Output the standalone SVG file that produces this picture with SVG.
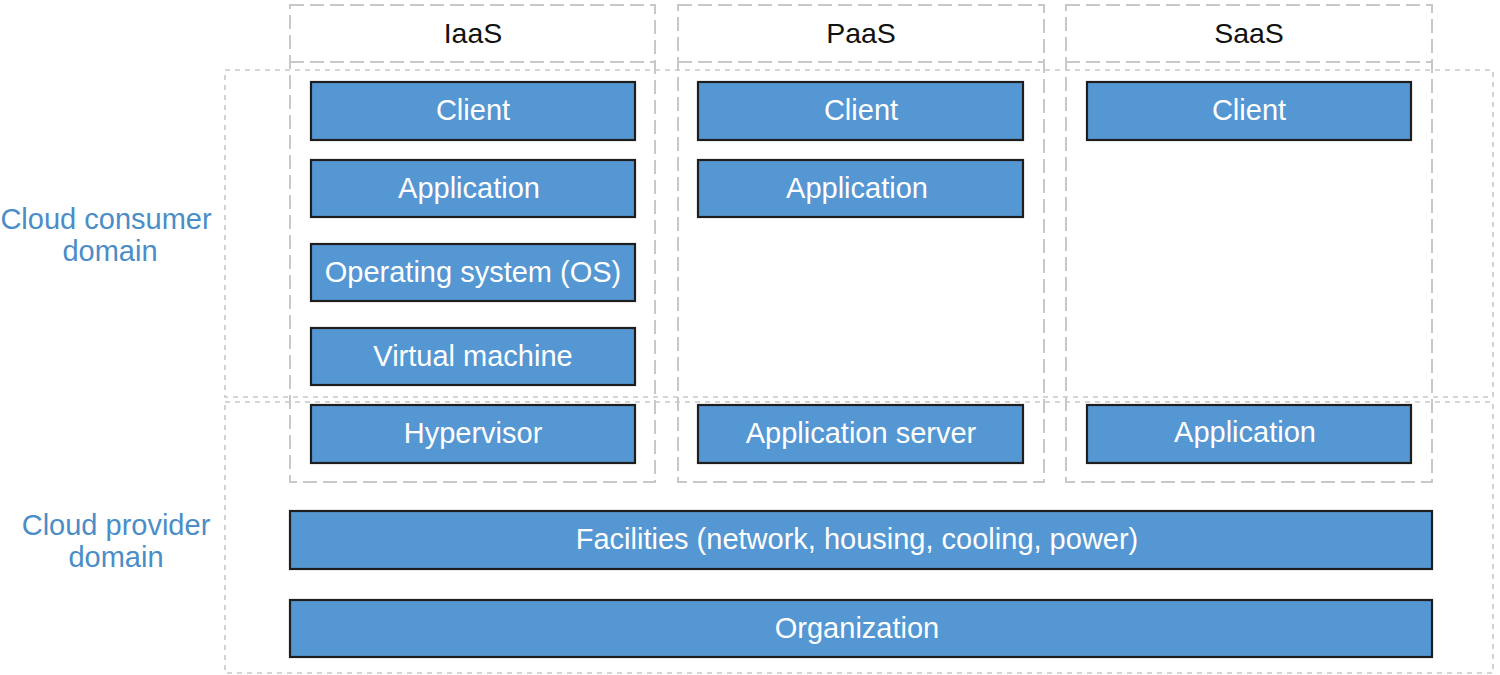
<svg xmlns="http://www.w3.org/2000/svg" width="1500" height="675" viewBox="0 0 1500 675">
<style>
.col{fill:none;stroke:#c8c8c8;stroke-width:2;stroke-dasharray:14 6}
.dom{fill:none;stroke:#c8c8c8;stroke-width:1.6;stroke-dasharray:5 5}
.box{fill:#5597d2;stroke:#1e1e1e;stroke-width:2.2}
.bt{fill:#ffffff;font-family:"Liberation Sans",Arial,sans-serif;font-size:29px;text-anchor:middle}
.ht{fill:#111111;font-family:"Liberation Sans",Arial,sans-serif;font-size:28.5px;text-anchor:middle}
.dt{fill:#4a8dc8;font-family:"Liberation Sans",Arial,sans-serif;font-size:29px;text-anchor:middle}
</style>
<rect width="1500" height="675" fill="#ffffff"/>
<g id="domains">
<g id="consumer-domain">
<rect class="dom" x="225" y="70" width="1268" height="327"/>
<text class="dt" x="106" y="229">Cloud consumer</text>
<text class="dt" x="110" y="261">domain</text>
</g>
<g id="provider-domain">
<rect class="dom" x="225" y="402" width="1268" height="271"/>
<text class="dt" x="116" y="535">Cloud provider</text>
<text class="dt" x="116" y="567">domain</text>
</g>
</g>
<g id="col-iaas">
<rect class="col" x="290" y="5" width="365" height="477"/>
<line class="col" x1="290" y1="62" x2="655" y2="62"/>
<text class="ht" x="473" y="43">IaaS</text>
</g>
<g id="col-paas">
<rect class="col" x="678" y="5" width="366" height="477"/>
<line class="col" x1="678" y1="62" x2="1044" y2="62"/>
<text class="ht" x="861" y="43">PaaS</text>
</g>
<g id="col-saas">
<rect class="col" x="1066" y="5" width="366" height="477"/>
<line class="col" x1="1066" y1="62" x2="1432" y2="62"/>
<text class="ht" x="1249" y="43">SaaS</text>
</g>
<g id="iaas-client"><rect class="box" x="311" y="82" width="324" height="58"/><text class="bt" x="473" y="120">Client</text></g>
<g id="iaas-application"><rect class="box" x="311" y="160" width="324" height="57"/><text class="bt" x="469" y="198">Application</text></g>
<g id="iaas-os"><rect class="box" x="311" y="244" width="324" height="57"/><text class="bt" x="473" y="282">Operating system (OS)</text></g>
<g id="iaas-vm"><rect class="box" x="311" y="328" width="324" height="57"/><text class="bt" x="473" y="366">Virtual machine</text></g>
<g id="iaas-hypervisor"><rect class="box" x="311" y="405" width="324" height="58"/><text class="bt" x="473" y="443">Hypervisor</text></g>
<g id="paas-client"><rect class="box" x="698" y="82" width="325" height="58"/><text class="bt" x="861" y="120">Client</text></g>
<g id="paas-application"><rect class="box" x="698" y="160" width="325" height="57"/><text class="bt" x="857" y="198">Application</text></g>
<g id="paas-appserver"><rect class="box" x="698" y="405" width="325" height="58"/><text class="bt" x="861" y="443">Application server</text></g>
<g id="saas-client"><rect class="box" x="1087" y="82" width="324" height="58"/><text class="bt" x="1249" y="120">Client</text></g>
<g id="saas-application"><rect class="box" x="1087" y="405" width="324" height="58"/><text class="bt" x="1245" y="442">Application</text></g>
<g id="facilities"><rect class="box" x="290" y="511" width="1142" height="58"/><text class="bt" x="857" y="549">Facilities (network, housing, cooling, power)</text></g>
<g id="organization"><rect class="box" x="290" y="600" width="1142" height="57"/><text class="bt" x="857" y="638">Organization</text></g>
<g id="connectors"></g>
</svg>
